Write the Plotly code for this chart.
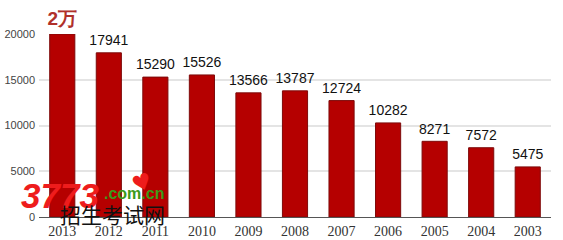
import plotly.graph_objects as go

years = ["2013", "2012", "2011", "2010", "2009", "2008", "2007", "2006", "2005", "2004", "2003"]
values = [20000, 17941, 15290, 15526, 13566, 13787, 12724, 10282, 8271, 7572, 5475]
labels = ["<b>2万</b>", "17941", "15290", "15526", "13566", "13787", "12724", "10282", "8271", "7572", "5475"]
y_ticks = [0, 5000, 10000, 15000, 20000]

label_colors = ["#b0302a"] + ["#111111"] * (len(values) - 1)
label_sizes = [19] + [14] * (len(values) - 1)

fig = go.Figure()
fig.add_trace(go.Bar(
    x=years, y=values,
    width=0.54,
    marker=dict(color="#b50000", line=dict(color="#7d0a0a", width=1)),
    hoverinfo="skip",
))
fig.add_trace(go.Scatter(
    x=years, y=values, mode="markers+text",
    marker=dict(size=5, opacity=0),
    text=labels, textposition="top center", cliponaxis=False,
    textfont=dict(color=label_colors, size=label_sizes, family="Liberation Sans, Arial"),
))

fig.update_layout(
    width=563, height=240,
    margin=dict(l=39, r=12, t=34, b=23),
    paper_bgcolor="white", plot_bgcolor="white",
    showlegend=False,
    xaxis=dict(
        type="category", range=[-0.5, 10.5], automargin=False,
        showgrid=False, showline=True, linecolor="#555", linewidth=1,
        ticks="", ticklabelstandoff=1,
        tickfont=dict(family="Liberation Serif, Times New Roman", size=14, color="#333"),
    ),
    yaxis=dict(
        range=[0, 20000], tickvals=y_ticks, ticktext=[str(v) for v in y_ticks],
        automargin=False,
        showgrid=True, gridcolor="#e4e4e4", gridwidth=1.5, zeroline=False,
        ticks="", ticklabelstandoff=3,
        tickfont=dict(family="Liberation Sans, Arial", size=11, color="#444"),
    ),
)

# watermark
fig.add_annotation(xref="paper", yref="paper", x=0.041, y=0.12, xanchor="center", yanchor="middle",
                   text="<b><i>3773</i></b>", showarrow=False,
                   font=dict(family="Liberation Sans, Arial", size=35, color="#ee1c1c"))
fig.add_annotation(xref="paper", yref="paper", x=0.186, y=0.13, xanchor="center", yanchor="middle",
                   text="<b>.com.cn</b>", showarrow=False,
                   font=dict(family="Liberation Sans, Arial", size=16, color="#3a9a1a"))
fig.add_annotation(xref="paper", yref="paper", x=0.201, y=0.19, xanchor="center", yanchor="middle",
                   text="♥", showarrow=False, textangle=-20,
                   font=dict(family="DejaVu Sans", size=22, color="#ee1c1c"))
fig.add_annotation(xref="paper", yref="paper", x=0.143, y=0.015, xanchor="center", yanchor="middle",
                   text="招生考试网", showarrow=False,
                   font=dict(family="Noto Sans CJK SC", size=21, color="#111"))

fig.write_html("out.html")
